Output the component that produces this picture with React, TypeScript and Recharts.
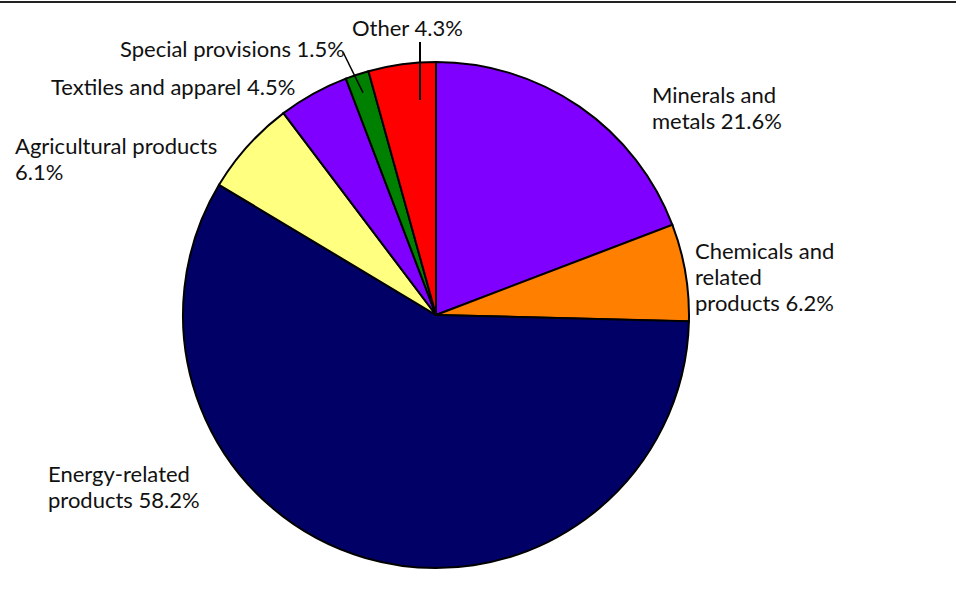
import React from "react";
import { PieChart, Pie, Cell } from "recharts";

// slices clockwise from 12 o'clock
const categories = [
  "Minerals and metals",
  "Chemicals and related products",
  "Energy-related products",
  "Agricultural products",
  "Textiles and apparel",
  "Special provisions",
  "Other",
];
// shares as drawn in the pie
const shares = [19.2, 6.2, 58.2, 6.1, 4.5, 1.5, 4.3];
// label text as printed
const labelLines = [
  ["Minerals and", "metals 21.6%"],
  ["Chemicals and", "related", "products 6.2%"],
  ["Energy-related", "products 58.2%"],
  ["Agricultural products", "6.1%"],
  ["Textiles and apparel 4.5%"],
  ["Special provisions 1.5%"],
  ["Other 4.3%"],
];
const colors = ["#8000ff", "#ff8000", "#000066", "#ffff80", "#8000ff", "#008000", "#ff0000"];

const data = categories.map((name, i) => ({ name, value: shares[i] }));

// hand placed label layout (left x, first baseline), like the original
const LABEL_AT: [number, number][] = [
  [652, 103],
  [695, 259],
  [48, 482],
  [15, 154],
  [51, 95],
  [120, 57],
  [352, 36],
];
const LINE_H = 26;

function renderLabel(p: any) {
  const i = p.index;
  const [x, y] = LABEL_AT[i];
  const lines = labelLines[i];
  const r = p.outerRadius;
  let leader: React.ReactNode = null;
  if (i === 6) {
    // vertical tick from text into the slice
    const ax = p.cx - 16;
    leader = <line x1={ax} y1={p.cy - r + 38} x2={ax} y2={y + 6} stroke="#000" strokeWidth={2} />;
  }
  if (i === 5) {
    const a = (p.midAngle * Math.PI) / 180;
    const ex = p.cx + (r - 19) * Math.cos(a);
    const ey = p.cy - (r - 19) * Math.sin(a);
    leader = <line x1={x + 223} y1={y - 5} x2={ex} y2={ey} stroke="#000" strokeWidth={1.5} />;
  }
  return (
    <g key={"lbl" + i}>
      {leader}
      <text x={x} y={y} fill="#111" fontSize={22} fontFamily="Lato, 'Noto Sans', sans-serif">
        {lines.map((t, k) => (
          <tspan key={k} x={x} y={y + k * LINE_H}>{t}</tspan>
        ))}
      </text>
    </g>
  );
}

export default function App() {
  return (
    <div style={{ position: "fixed", left: 0, top: 0, width: 956, height: 593, background: "#fff" }}>
      <div style={{ position: "absolute", left: 0, top: 1, width: 956, height: 2, background: "#222" }} />
      <PieChart width={956} height={593} margin={{ top: 0, right: 0, bottom: 0, left: 0 }}>
        <Pie
          data={data}
          dataKey="value"
          nameKey="name"
          cx={436}
          cy={315}
          outerRadius={253}
          startAngle={90}
          endAngle={-270}
          stroke="#000"
          strokeWidth={2}
          label={renderLabel}
          labelLine={false}
          isAnimationActive={false}
        >
          {data.map((d, i) => (
            <Cell key={d.name} fill={colors[i]} />
          ))}
        </Pie>
      </PieChart>
    </div>
  );
}
